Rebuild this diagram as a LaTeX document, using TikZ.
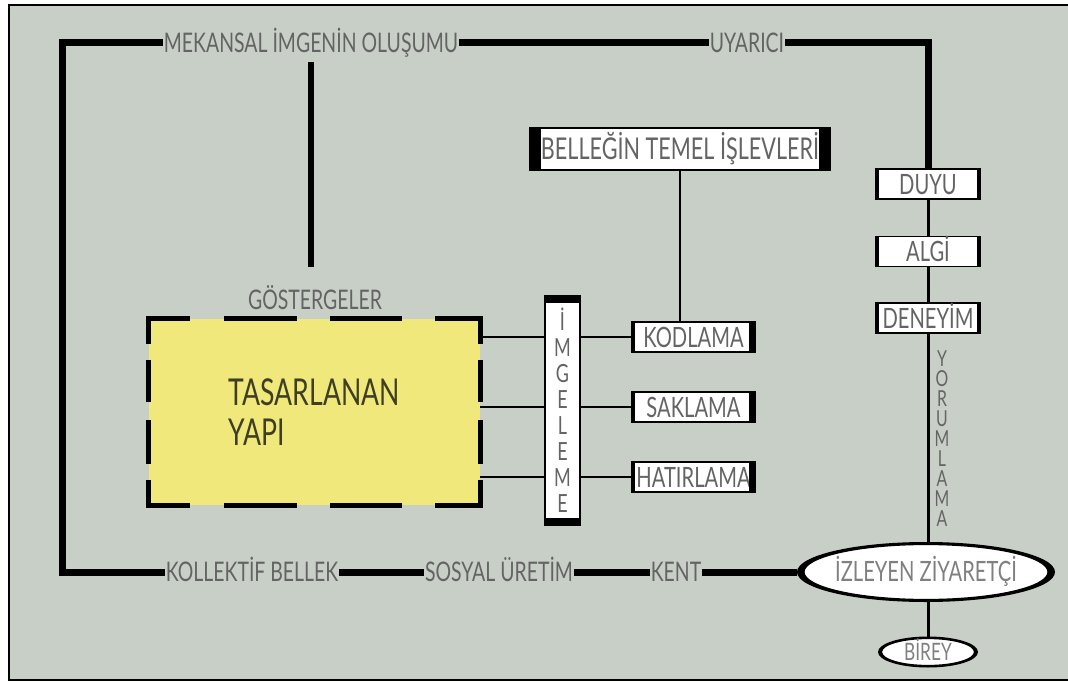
\documentclass[tikz,border=0pt]{standalone}
\usepackage{fontspec}
\newfontfamily\hand[FakeStretch=0.72]{Lato}
\usetikzlibrary{positioning,backgrounds,shapes.geometric}
\definecolor{paneGrey}{RGB}{200,207,199}
\definecolor{yapiYellow}{RGB}{240,232,122}
\definecolor{inkGrey}{RGB}{100,100,100}
\definecolor{yapiInk}{RGB}{62,62,34}

\begin{document}
\begin{tikzpicture}[x=1pt,y=-1pt,
  lbl/.style={font=\hand\fontsize{27}{29}\selectfont,text=inkGrey,
              inner sep=1pt,text height=19pt,text depth=0pt},
  tag/.style={rectangle,draw=black,line width=1.2pt,fill=white,
              minimum width=#1,minimum height=30pt,inner sep=0pt,
              font=\hand\fontsize{28}{30}\selectfont,text=inkGrey,
              text height=20pt,text depth=0pt},
  tag/.default=123pt,
  rim/.style={ellipse,fill=black,inner sep=0pt},
  disc/.style={ellipse,fill=white,draw=black,line width=1.2pt,inner sep=0pt},
  trunk/.style={line width=7pt},
  wire/.style={line width=2pt},
  hdash/.style={line width=5pt,line cap=rect,
                dash pattern=on 39pt off 39pt on 68pt off 38pt on 67pt off 38pt on 60pt},
  vdash/.style={line width=5pt,line cap=rect,
                dash pattern=on 23pt off 21pt on 37pt off 23pt on 39pt off 21pt on 40pt}
]
\useasboundingbox (0,0) rectangle (1068,682);
\begin{scope}[on background layer]
  \fill[white] (0,0) rectangle (1068,682);
  \fill[paneGrey] (9,5) rectangle (1068,680);
  \draw[line width=1.5pt] (1068,5) -- (9,5) -- (9,680) -- (1068,680);
\end{scope}

% Outer loop labels
\node[lbl] (mek) at (311,43) {MEKANSAL İMGENİN OLUŞUMU};
\node[lbl] (uyar) at (747,43) {UYARICI};
\node[lbl] (koll) at (252,572) {KOLLEKTİF BELLEK};
\node[lbl] (sos) at (499,572) {SOSYAL ÜRETİM};
\node[lbl] (kent) at (676,572) {KENT};
\coordinate (tl) at (62,43);
\coordinate (tr) at (928,43);
\coordinate (bl) at (62,572);

% Designed building
\node[lbl] (gost) at (315,300) {GÖSTERGELER};
\node[fill=yapiYellow,minimum width=331pt,minimum height=186pt,inner sep=0pt,
      align=left,font=\hand\fontsize{37}{40}\selectfont,text=yapiInk]
  (yapi) at (314.5,412) {TASARLANAN\\YAPI};
\foreach \a/\b/\s in {north west/north east/hdash,south west/south east/hdash,
                      north west/south west/vdash,north east/south east/vdash}
  \draw[\s] (yapi.\a) -- (yapi.\b);

% Imagery bar and memory functions
\node[rectangle,draw=black,line width=1.2pt,fill=white,minimum width=35pt,
      minimum height=229pt,inner sep=0pt,align=center,
      font=\hand\fontsize{25}{26}\selectfont,text=inkGrey]
  (img) at (562.5,410.5) {İ\\M\\G\\E\\L\\E\\M\\E};
\node[tag=300pt,minimum height=42pt,font=\hand\fontsize{30}{32}\selectfont]
  (bel) at (680,149) {BELLEĞİN TEMEL İŞLEVLERİ};
\node[tag] (kod) at (693.5,337) {KODLAMA};
\node[tag] (sak) at (693.5,407) {SAKLAMA};
\node[tag] (hat) at (693.5,477) {HATIRLAMA};

% Perception chain
\node[tag=105pt] (duyu) at (928,184) {DUYU};
\node[tag=105pt] (algi) at (928,251.5) {ALGİ};
\node[tag=105pt] (deney) at (928,318) {DENEYİM};
\node[font=\hand\fontsize{22}{20}\selectfont,text=inkGrey,align=center,inner sep=0pt]
  (yor) at (942,439) {Y\\O\\R\\U\\M\\L\\A\\M\\A};

% Visitor
\node[rim,minimum width=258pt,minimum height=60pt] (vizrim) at (926,572) {};
\node[disc,minimum width=244pt,minimum height=55pt,
      label={[lbl,text=gray,font=\hand\fontsize{28}{30}\selectfont]center:İZLEYEN ZİYARETÇİ}]
  (viz) at (vizrim) {};
\node[rim,minimum width=100pt,minimum height=31pt] (birrim) at (928,652) {};
\node[disc,minimum width=93pt,minimum height=27pt,
      label={[lbl,text=gray,font=\hand\fontsize{24}{26}\selectfont,text height=16pt]center:BİREY}]
  (birey) at (birrim) {};

% Box end caps
\foreach \n in {kod,sak,hat} {
  \draw[line width=4pt] ([xshift=2pt]\n.north west) -- ([xshift=2pt]\n.south west);
  \draw[line width=7pt] ([xshift=-3.5pt]\n.north east) -- ([xshift=-3.5pt]\n.south east);
}
\foreach \n in {duyu,algi,deney} {
  \draw[line width=4pt] ([xshift=2pt]\n.north west) -- ([xshift=2pt]\n.south west);
  \draw[line width=4pt] ([xshift=-2pt]\n.north east) -- ([xshift=-2pt]\n.south east);
}
\draw[line width=12pt] ([xshift=6pt]bel.north west) -- ([xshift=6pt]bel.south west);
\draw[line width=12pt] ([xshift=-6pt]bel.north east) -- ([xshift=-6pt]bel.south east);
\draw[line width=8pt] ([yshift=-4pt]img.north west) -- ([yshift=-4pt]img.north east);
\draw[line width=8pt] ([yshift=4pt]img.south west) -- ([yshift=4pt]img.south east);

% Connectors
\begin{scope}[on background layer]
  \draw[trunk] (mek.west) -- (tl) -- (bl) -- (koll.west);
  \draw[trunk] (mek.east) -- (uyar.west);
  \draw[trunk] (uyar.east) -- (tr) -- (duyu.north);
  \draw[trunk] (koll.east) -- (sos.west);
  \draw[trunk] (sos.east) -- (kent.west);
  \draw[trunk] (kent.east) -- (vizrim.west);
  \draw[line width=6pt,shorten <=8pt,shorten >=22pt] (mek.south) -- (mek.south |- gost.north);
  \foreach \b in {kod,sak,hat}
    \draw[wire] (yapi.east |- \b.west) -- (\b.west);
  \draw[wire] (bel.south) -- (bel.south |- kod.north);
  \draw[line width=3pt] (duyu.south) -- (algi.north);
  \draw[line width=3pt] (algi.south) -- (deney.north);
  \draw[line width=3pt] (deney.south) -- (deney.south |- viz.north);
  \draw[line width=3pt] (viz.south -| birey.north) -- (birey.north);
\end{scope}
\end{tikzpicture}
\end{document}
